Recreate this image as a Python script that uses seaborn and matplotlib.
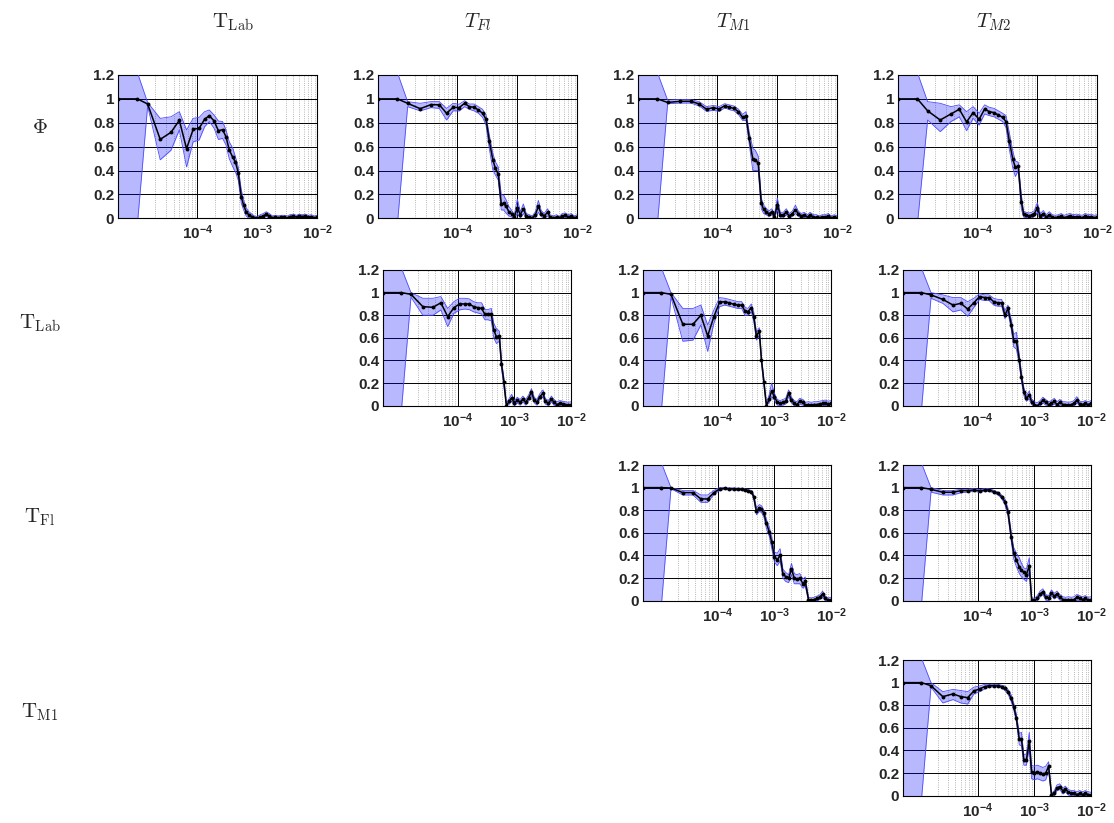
import matplotlib
matplotlib.use('Agg')
import matplotlib.pyplot as plt
from matplotlib.ticker import FixedLocator, FixedFormatter, NullFormatter
import seaborn as sns

freq = [4.8e-6, 1.0e-5, 1.48e-5, 2.4e-5, 3.63e-5, 5.0e-5, 6.6e-5, 8.5e-5, 1.07e-4, 1.32e-4,
        1.58e-4, 1.9e-4, 2.24e-4, 2.63e-4, 3.0e-4, 3.4e-4, 3.9e-4, 4.3e-4, 4.8e-4, 5.4e-4,
        5.9e-4, 6.5e-4, 7.2e-4, 8.1e-4, 8.9e-4, 1.0e-3, 1.12e-3, 1.26e-3, 1.41e-3, 1.58e-3,
        1.78e-3, 2.0e-3, 2.24e-3, 2.5e-3, 2.8e-3, 3.2e-3, 3.5e-3, 4.0e-3, 4.5e-3, 5.0e-3,
        5.6e-3, 6.3e-3, 7.1e-3, 7.9e-3, 8.9e-3, 1.0e-2]

col_titles = [r'$\mathrm{T}_{\mathrm{Lab}}$', r'$T_{Fl}$', r'$T_{M1}$', r'$T_{M2}$']
row_titles = [r'$\Phi$', r'$\mathrm{T}_{\mathrm{Lab}}$', r'$\mathrm{T}_{\mathrm{Fl}}$', r'$\mathrm{T}_{\mathrm{M1}}$']
yticks = [0, 0.2, 0.4, 0.6, 0.8, 1.0, 1.2]
ytick_labels = ['0', '0.2', '0.4', '0.6', '0.8', '1', '1.2']
xticks = [1e-4, 1e-3, 1e-2]
xtick_labels = [r'$\mathbf{10^{-4}}$', r'$\mathbf{10^{-3}}$', r'$\mathbf{10^{-2}}$']

# row 0: Phi
phi_lab_mean = [1.0, 1.0, 0.957, 0.661, 0.72, 0.82, 0.583, 0.745, 0.754, 0.829, 0.86, 0.815, 0.734, 0.742, 0.684, 0.572, 0.51, 0.474, 0.382, 0.18, 0.11, 0.056, 0.028, 0.014, 0.005, 0.0,
                0.01, 0.02, 0.035, 0.02, 0.005, 0.01, 0.005, 0.01, 0.01, 0.005, 0.015, 0.02, 0.01, 0.02, 0.015, 0.02, 0.01, 0.015, 0.005, 0.01]
phi_lab_lo = [-2.0, -0.05, 0.94, 0.49, 0.57, 0.74, 0.43, 0.64, 0.656, 0.767, 0.81, 0.754, 0.66, 0.67, 0.614, 0.50, 0.43, 0.39, 0.32, 0.126, 0.07, 0.02, 0.0, 0.0, 0.0, 0.0,
              0.0, 0.005, 0.015, 0.005, 0.0, 0.0, 0.0, 0.0, 0.0, 0.0, 0.0, 0.005, 0.0, 0.005, 0.0, 0.005, 0.0, 0.0, 0.0, 0.0]
phi_lab_hi = [3.0, 1.22, 0.97, 0.837, 0.85, 0.893, 0.74, 0.837, 0.845, 0.893, 0.907, 0.865, 0.815, 0.81, 0.74, 0.64, 0.586, 0.516, 0.43, 0.237, 0.154, 0.09, 0.056, 0.035, 0.02, 0.015,
              0.03, 0.04, 0.055, 0.04, 0.02, 0.025, 0.02, 0.025, 0.025, 0.02, 0.03, 0.035, 0.025, 0.035, 0.03, 0.035, 0.025, 0.03, 0.02, 0.025]

phi_fl_mean = [1.0, 1.0, 0.963, 0.918, 0.952, 0.95, 0.88, 0.929, 0.927, 0.963, 0.935, 0.93, 0.907, 0.88, 0.83, 0.65, 0.49, 0.42, 0.37, 0.12, 0.126, 0.10, 0.056, 0.036,
               0.01, 0.09, 0.03, 0.08, 0.02, 0.01, 0.005, 0.03, 0.10, 0.04, 0.02, 0.05, 0.01, 0.005, 0.01, 0.0, 0.02, 0.025, 0.01, 0.02, 0.005, 0.01]
phi_fl_lo = [-2.0, -0.05, 0.935, 0.90, 0.927, 0.92, 0.823, 0.90, 0.899, 0.935, 0.913, 0.90, 0.88, 0.846, 0.78, 0.586, 0.405, 0.363, 0.32, 0.07, 0.07, 0.042, 0.02, 0.01,
             0.0, 0.04, 0.005, 0.04, 0.0, 0.0, 0.0, 0.005, 0.05, 0.015, 0.0, 0.02, 0.0, 0.0, 0.0, 0.0, 0.0, 0.005, 0.0, 0.0, 0.0, 0.0]
phi_fl_hi = [3.0, 1.22, 0.977, 0.963, 0.977, 0.977, 0.92, 0.963, 0.955, 0.985, 0.957, 0.957, 0.935, 0.913, 0.865, 0.70, 0.544, 0.474, 0.43, 0.195, 0.195, 0.154, 0.10, 0.064,
             0.03, 0.16, 0.055, 0.12, 0.04, 0.03, 0.02, 0.055, 0.15, 0.065, 0.04, 0.08, 0.03, 0.02, 0.03, 0.015, 0.04, 0.045, 0.03, 0.04, 0.02, 0.03]

phi_m1_mean = [1.0, 1.0, 0.97, 0.98, 0.98, 0.957, 0.913, 0.927, 0.915, 0.943, 0.93, 0.92, 0.893, 0.846, 0.857, 0.67, 0.494, 0.49, 0.46, 0.126, 0.075, 0.056, 0.036, 0.056, 0.014, 0.11,
               0.03, 0.03, 0.05, 0.02, 0.04, 0.07, 0.04, 0.02, 0.03, 0.01, 0.03, 0.01, 0.01, 0.005, 0.01, 0.01, 0.02, 0.005, 0.01, 0.005]
phi_m1_lo = [-2.0, -0.05, 0.96, 0.965, 0.965, 0.94, 0.895, 0.905, 0.895, 0.925, 0.91, 0.90, 0.87, 0.82, 0.82, 0.62, 0.40, 0.40, 0.40, 0.08, 0.04, 0.03, 0.015, 0.03, 0.0, 0.07,
             0.01, 0.01, 0.03, 0.0, 0.02, 0.04, 0.02, 0.0, 0.01, 0.0, 0.01, 0.0, 0.0, 0.0, 0.0, 0.0, 0.0, 0.0, 0.0, 0.0]
phi_m1_hi = [3.0, 1.22, 0.99, 0.995, 0.995, 0.975, 0.935, 0.945, 0.935, 0.96, 0.95, 0.94, 0.915, 0.87, 0.893, 0.72, 0.586, 0.57, 0.52, 0.17, 0.11, 0.085, 0.06, 0.08, 0.03, 0.17,
             0.05, 0.05, 0.08, 0.04, 0.06, 0.11, 0.06, 0.04, 0.05, 0.03, 0.05, 0.03, 0.03, 0.02, 0.03, 0.03, 0.04, 0.02, 0.03, 0.02]

phi_m2_mean = [1.0, 1.0, 0.90, 0.823, 0.874, 0.913, 0.807, 0.885, 0.829, 0.915, 0.893, 0.885, 0.865, 0.846, 0.81, 0.65, 0.494, 0.427, 0.438, 0.14, 0.036, 0.028, 0.02, 0.028, 0.04, 0.084,
               0.02, 0.04, 0.01, 0.03, 0.01, 0.005, 0.01, 0.02, 0.005, 0.015, 0.02, 0.01, 0.015, 0.01, 0.005, 0.02, 0.01, 0.015, 0.005, 0.01]
phi_m2_lo = [-2.0, -0.05, 0.823, 0.726, 0.81, 0.85, 0.734, 0.837, 0.78, 0.874, 0.86, 0.85, 0.83, 0.81, 0.76, 0.58, 0.42, 0.35, 0.40, 0.08, 0.01, 0.005, 0.0, 0.005, 0.015, 0.05,
             0.0, 0.015, 0.0, 0.005, 0.0, 0.0, 0.0, 0.0, 0.0, 0.0, 0.0, 0.0, 0.0, 0.0, 0.0, 0.0, 0.0, 0.0, 0.0, 0.0]
phi_m2_hi = [3.0, 1.22, 0.977, 0.963, 0.935, 0.95, 0.893, 0.935, 0.88, 0.95, 0.93, 0.92, 0.90, 0.88, 0.86, 0.72, 0.56, 0.48, 0.47, 0.20, 0.06, 0.05, 0.045, 0.05, 0.065, 0.13,
             0.04, 0.065, 0.03, 0.055, 0.03, 0.025, 0.03, 0.04, 0.025, 0.035, 0.04, 0.03, 0.035, 0.03, 0.025, 0.04, 0.03, 0.035, 0.025, 0.03]

# row 1: T_Lab
lab_fl_mean = [1.0, 1.0, 0.985, 0.876, 0.87, 0.91, 0.788, 0.867, 0.90, 0.90, 0.90, 0.876, 0.867, 0.86, 0.808, 0.808, 0.808, 0.67, 0.61, 0.617, 0.369, 0.212, 0.0,
               0.04, 0.07, 0.02, 0.05, 0.03, 0.06, 0.03, 0.07, 0.12, 0.05, 0.03, 0.08, 0.11, 0.04, 0.02, 0.06, 0.03, 0.01, 0.02, 0.015, 0.01, 0.005, 0.01]
lab_fl_lo = [-2.0, -0.05, 0.96, 0.80, 0.80, 0.847, 0.70, 0.817, 0.847, 0.855, 0.85, 0.83, 0.82, 0.81, 0.76, 0.76, 0.75, 0.60, 0.55, 0.57, 0.33, 0.17, 0.0,
             0.015, 0.04, 0.0, 0.025, 0.005, 0.035, 0.005, 0.045, 0.09, 0.025, 0.005, 0.055, 0.08, 0.015, 0.0, 0.035, 0.005, 0.0, 0.0, 0.0, 0.0, 0.0, 0.0]
lab_fl_hi = [3.0, 1.22, 1.0, 0.95, 0.95, 0.965, 0.86, 0.92, 0.95, 0.95, 0.945, 0.92, 0.91, 0.91, 0.85, 0.85, 0.86, 0.73, 0.68, 0.66, 0.40, 0.25, 0.02,
             0.065, 0.1, 0.045, 0.075, 0.055, 0.085, 0.055, 0.095, 0.15, 0.075, 0.055, 0.105, 0.14, 0.065, 0.045, 0.085, 0.055, 0.035, 0.045, 0.04, 0.035, 0.03, 0.035]

lab_m1_mean = [1.0, 1.0, 0.985, 0.72, 0.72, 0.80, 0.617, 0.788, 0.914, 0.92, 0.91, 0.897, 0.89, 0.89, 0.838, 0.832, 0.867, 0.788, 0.617, 0.66, 0.404, 0.212, 0.0,
               0.06, 0.13, 0.08, 0.03, 0.02, 0.03, 0.04, 0.11, 0.05, 0.02, 0.01, 0.04, 0.03, 0.005, 0.01, 0.005, 0.01, 0.01, 0.015, 0.02, 0.025, 0.015, 0.02]
lab_m1_lo = [-2.0, -0.05, 0.96, 0.57, 0.58, 0.714, 0.48, 0.73, 0.876, 0.89, 0.88, 0.87, 0.86, 0.86, 0.80, 0.80, 0.83, 0.75, 0.58, 0.62, 0.37, 0.18, 0.0,
             0.03, 0.08, 0.05, 0.005, 0.0, 0.005, 0.015, 0.08, 0.025, 0.0, 0.0, 0.015, 0.005, 0.0, 0.0, 0.0, 0.0, 0.0, 0.0, 0.0, 0.0, 0.0, 0.0]
lab_m1_hi = [3.0, 1.22, 1.0, 0.86, 0.86, 0.89, 0.714, 0.847, 0.956, 0.95, 0.94, 0.93, 0.92, 0.92, 0.87, 0.86, 0.90, 0.83, 0.65, 0.69, 0.43, 0.24, 0.02,
             0.1, 0.2, 0.11, 0.055, 0.045, 0.055, 0.065, 0.14, 0.075, 0.045, 0.035, 0.065, 0.055, 0.03, 0.035, 0.03, 0.035, 0.035, 0.04, 0.045, 0.05, 0.04, 0.045]

lab_m2_mean = [1.0, 1.0, 0.98, 0.94, 0.89, 0.905, 0.855, 0.91, 0.965, 0.956, 0.956, 0.92, 0.91, 0.91, 0.80, 0.86, 0.714, 0.575, 0.572, 0.404, 0.25, 0.124, 0.065,
               0.094, 0.035, 0.01, 0.0, 0.02, 0.05, 0.03, 0.01, 0.02, 0.04, 0.01, 0.03, 0.01, 0.01, 0.005, 0.01, 0.02, 0.05, 0.015, 0.01, 0.02, 0.01, 0.02]
lab_m2_lo = [-2.0, -0.05, 0.95, 0.905, 0.83, 0.847, 0.79, 0.87, 0.94, 0.93, 0.93, 0.89, 0.88, 0.88, 0.77, 0.83, 0.67, 0.52, 0.50, 0.36, 0.21, 0.09, 0.04,
             0.06, 0.01, 0.0, 0.0, 0.0, 0.025, 0.005, 0.0, 0.0, 0.015, 0.0, 0.005, 0.0, 0.0, 0.0, 0.0, 0.0, 0.025, 0.0, 0.0, 0.0, 0.0, 0.0]
lab_m2_hi = [3.0, 1.22, 1.0, 0.98, 0.956, 0.956, 0.92, 0.95, 0.99, 0.98, 0.98, 0.95, 0.94, 0.94, 0.84, 0.89, 0.76, 0.63, 0.65, 0.45, 0.29, 0.16, 0.09,
             0.13, 0.06, 0.035, 0.025, 0.045, 0.075, 0.055, 0.035, 0.045, 0.065, 0.035, 0.055, 0.035, 0.035, 0.03, 0.035, 0.045, 0.08, 0.04, 0.035, 0.045, 0.035, 0.045]

# row 2: T_Fl
fl_m1_mean = [1.0, 1.0, 0.997, 0.956, 0.956, 0.90, 0.90, 0.956, 0.988, 0.994, 0.988, 0.988, 0.985, 0.985, 0.98, 0.973, 0.965, 0.92, 0.79, 0.817,
              0.808, 0.773, 0.684, 0.61, 0.522, 0.39, 0.36, 0.404, 0.24, 0.212, 0.198, 0.28, 0.20, 0.19, 0.20, 0.15, 0.17, 0.01, 0.005, 0.01,
              0.02, 0.03, 0.06, 0.02, 0.005, 0.01]
fl_m1_lo = [-2.0, -0.05, 0.99, 0.935, 0.935, 0.87, 0.87, 0.94, 0.975, 0.985, 0.978, 0.978, 0.975, 0.975, 0.97, 0.963, 0.955, 0.90, 0.76, 0.79,
            0.78, 0.74, 0.64, 0.57, 0.47, 0.34, 0.31, 0.35, 0.20, 0.17, 0.16, 0.23, 0.15, 0.15, 0.15, 0.11, 0.13, 0.0, 0.0, 0.0,
            0.0, 0.01, 0.035, 0.0, 0.0, 0.0]
fl_m1_hi = [3.0, 1.22, 1.0, 0.975, 0.975, 0.935, 0.935, 0.975, 1.0, 1.0, 0.998, 0.998, 0.995, 0.995, 0.99, 0.983, 0.975, 0.94, 0.82, 0.85,
            0.84, 0.80, 0.72, 0.65, 0.57, 0.43, 0.42, 0.46, 0.28, 0.25, 0.23, 0.33, 0.24, 0.23, 0.24, 0.19, 0.21, 0.03, 0.025, 0.03,
            0.04, 0.05, 0.085, 0.04, 0.025, 0.03]

fl_m2_mean = [1.0, 1.0, 0.985, 0.959, 0.959, 0.973, 0.973, 0.98, 0.97, 0.98, 0.98, 0.965, 0.95, 0.92, 0.876, 0.788, 0.56, 0.42, 0.36, 0.30,
              0.27, 0.25, 0.23, 0.31, 0.01, 0.0, 0.02, 0.06, 0.08, 0.03, 0.02, 0.07, 0.04, 0.06, 0.03, 0.01, 0.005, 0.01, 0.005, 0.01,
              0.03, 0.02, 0.01, 0.02, 0.005, 0.01]
fl_m2_lo = [-2.0, -0.05, 0.96, 0.935, 0.935, 0.955, 0.96, 0.968, 0.958, 0.968, 0.968, 0.953, 0.938, 0.905, 0.85, 0.75, 0.52, 0.37, 0.30, 0.24,
            0.21, 0.19, 0.17, 0.26, 0.0, 0.0, 0.0, 0.035, 0.055, 0.005, 0.0, 0.045, 0.015, 0.035, 0.005, 0.0, 0.0, 0.0, 0.0, 0.0,
            0.005, 0.0, 0.0, 0.0, 0.0, 0.0]
fl_m2_hi = [3.0, 1.22, 1.0, 0.975, 0.975, 0.985, 0.985, 0.992, 0.982, 0.992, 0.992, 0.977, 0.962, 0.935, 0.90, 0.82, 0.60, 0.47, 0.42, 0.38,
            0.33, 0.29, 0.28, 0.38, 0.03, 0.02, 0.045, 0.085, 0.105, 0.055, 0.045, 0.095, 0.065, 0.085, 0.055, 0.035, 0.03, 0.035, 0.03, 0.035,
            0.055, 0.045, 0.035, 0.045, 0.03, 0.035]

# row 3: T_M1
m1_m2_mean = [1.0, 1.0, 0.973, 0.876, 0.90, 0.876, 0.867, 0.926, 0.944, 0.965, 0.973, 0.973, 0.973, 0.965, 0.95, 0.92, 0.86, 0.788, 0.684, 0.50,
              0.50, 0.316, 0.316, 0.48, 0.21, 0.20, 0.21, 0.20, 0.19, 0.20, 0.26, 0.01, 0.02, 0.07, 0.08, 0.04, 0.06, 0.03, 0.02, 0.02,
              0.01, 0.02, 0.01, 0.02, 0.01, 0.005]
m1_m2_lo = [-2.0, -0.05, 0.96, 0.82, 0.85, 0.82, 0.81, 0.90, 0.92, 0.945, 0.961, 0.961, 0.961, 0.953, 0.93, 0.90, 0.83, 0.76, 0.65, 0.45,
            0.44, 0.27, 0.27, 0.42, 0.15, 0.14, 0.15, 0.14, 0.13, 0.14, 0.22, 0.0, 0.0, 0.045, 0.055, 0.015, 0.035, 0.005, 0.0, 0.0,
            0.0, 0.0, 0.0, 0.0, 0.0, 0.0]
m1_m2_hi = [3.0, 1.22, 1.0, 0.92, 0.94, 0.93, 0.92, 0.96, 0.97, 0.985, 0.985, 0.985, 0.985, 0.977, 0.97, 0.94, 0.89, 0.82, 0.72, 0.55,
            0.56, 0.36, 0.37, 0.56, 0.27, 0.26, 0.27, 0.26, 0.25, 0.26, 0.30, 0.02, 0.045, 0.095, 0.105, 0.065, 0.085, 0.055, 0.045, 0.045,
            0.035, 0.045, 0.035, 0.045, 0.035, 0.03]

panels = [
    (0, 0, phi_lab_mean, phi_lab_lo, phi_lab_hi),
    (0, 1, phi_fl_mean, phi_fl_lo, phi_fl_hi),
    (0, 2, phi_m1_mean, phi_m1_lo, phi_m1_hi),
    (0, 3, phi_m2_mean, phi_m2_lo, phi_m2_hi),
    (1, 1, lab_fl_mean, lab_fl_lo, lab_fl_hi),
    (1, 2, lab_m1_mean, lab_m1_lo, lab_m1_hi),
    (1, 3, lab_m2_mean, lab_m2_lo, lab_m2_hi),
    (2, 2, fl_m1_mean, fl_m1_lo, fl_m1_hi),
    (2, 3, fl_m2_mean, fl_m2_lo, fl_m2_hi),
    (3, 3, m1_m2_mean, m1_m2_lo, m1_m2_hi),
]

sns.set_style('white')
plt.rcParams['font.family'] = ['Liberation Sans', 'DejaVu Sans']
plt.rcParams['font.weight'] = 'bold'
plt.rcParams['mathtext.fontset'] = 'custom'
plt.rcParams['mathtext.bf'] = 'Liberation Sans:bold'
plt.rcParams['mathtext.rm'] = 'Liberation Sans:bold'

W, H = 1114, 823
fig = plt.figure(figsize=(W / 100, H / 100), dpi=100)

minor_ticks = [m * 10.0 ** e for e in (-5, -4, -3) for m in range(2, 10)]


def axes_box(r, c):
    # pixel box (left, top, width, height) of each panel
    if r == 0:
        return 118.3 + 260 * c, 75, 199, 143.3
    return 383.3 + 260 * (c - 1), 270 + 195 * (r - 1), 187.7, 135.7


for r, c, mean, lo, hi in panels:
    left, top, w, h = axes_box(r, c)
    ax = fig.add_axes([left / W, 1 - (top + h) / H, w / W, h / H])
    ax.set_xscale('log')
    ax.fill_between(freq, lo, hi, color='blue', alpha=0.28, lw=0, zorder=2)
    ax.plot(freq, lo, color=(0.3, 0.3, 1.0), lw=0.6, zorder=3)
    ax.plot(freq, hi, color=(0.3, 0.3, 1.0), lw=0.6, zorder=3)
    sns.lineplot(x=freq, y=mean, ax=ax, color='black', lw=1.1, marker='o',
                 markersize=2.8, markeredgewidth=0, zorder=4)
    ax.set_xlim(freq[0], freq[-1])
    ax.set_ylim(0, 1.2)
    ax.xaxis.set_major_locator(FixedLocator(xticks))
    ax.xaxis.set_major_formatter(FixedFormatter(xtick_labels))
    ax.xaxis.set_minor_locator(FixedLocator(minor_ticks))
    ax.xaxis.set_minor_formatter(NullFormatter())
    ax.set_yticks(yticks)
    ax.set_yticklabels(ytick_labels)
    ax.set_axisbelow(True)
    ax.grid(which='major', color='black', lw=0.7, ls='-')
    ax.grid(which='minor', axis='x', color='#a0a0a0', lw=0.6, ls=':')
    ax.tick_params(which='major', direction='in', length=3, width=0.6, labelsize=11, pad=3)
    ax.tick_params(axis='x', which='major', pad=4)
    ax.tick_params(which='minor', direction='in', length=1.5, width=0.5)
    for s in ax.spines.values():
        s.set_color('black')
        s.set_linewidth(0.8)
    ax.set_xlabel('')
    ax.set_ylabel('')

for t, xc in zip(col_titles, [233, 478, 733, 993]):
    fig.text(xc / W, 1 - 22 / H, t, ha='center', va='center',
             fontsize=15, math_fontfamily='cm')

for t, yc in zip(row_titles, [128, 323, 517, 712]):
    fig.text(40 / W, 1 - yc / H, t, ha='center', va='center',
             fontsize=15, math_fontfamily='cm')

fig.savefig('out.png', dpi=100)
